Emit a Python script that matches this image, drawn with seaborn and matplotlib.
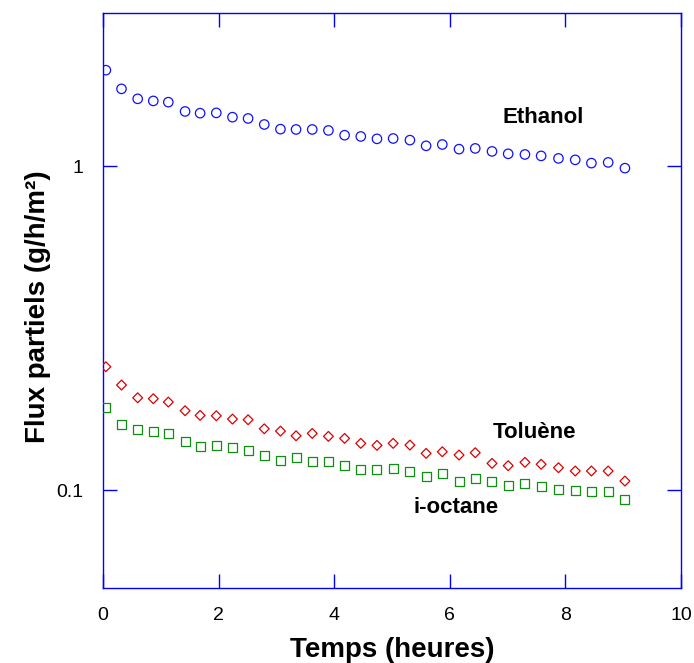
import numpy as np
import matplotlib
matplotlib.use('Agg')
import matplotlib.pyplot as plt
import matplotlib.ticker as mticker
import seaborn as sns

# temps de mesure (heures)
temps = [0.05, 0.32, 0.60, 0.87, 1.13, 1.42, 1.68, 1.96, 2.24, 2.51, 2.79,
         3.07, 3.34, 3.62, 3.90, 4.18, 4.46, 4.74, 5.02, 5.31, 5.59, 5.87,
         6.16, 6.44, 6.73, 7.01, 7.30, 7.58, 7.88, 8.17, 8.45, 8.74, 9.03]

# flux partiels (g/h/m2)
ethanol = [1.984, 1.737, 1.618, 1.594, 1.580, 1.479, 1.461, 1.464, 1.420,
           1.407, 1.348, 1.304, 1.301, 1.301, 1.292, 1.249, 1.238, 1.217,
           1.220, 1.206, 1.158, 1.169, 1.131, 1.137, 1.113, 1.094, 1.089,
           1.078, 1.059, 1.048, 1.024, 1.029, 0.988]
toluene = [0.2404, 0.2111, 0.1928, 0.1915, 0.1870, 0.1758, 0.1701, 0.1696,
           0.1657, 0.1649, 0.1546, 0.1521, 0.1471, 0.1496, 0.1465, 0.1444,
           0.1394, 0.1374, 0.1394, 0.1377, 0.1298, 0.1313, 0.1283, 0.1304,
           0.1209, 0.1189, 0.1218, 0.1201, 0.1172, 0.1145, 0.1145, 0.1145,
           0.1066]
ioctane = [0.1796, 0.1599, 0.1540, 0.1521, 0.1496, 0.1417, 0.1365, 0.1374,
           0.1358, 0.1329, 0.1280, 0.1238, 0.1258, 0.1223, 0.1223, 0.1189,
           0.1159, 0.1159, 0.1169, 0.1145, 0.1099, 0.1121, 0.1066, 0.1089,
           0.1059, 0.1034, 0.1049, 0.1027, 0.1007, 0.1000, 0.0991, 0.0991,
           0.0938]

sns.set_style('white')
plt.rcParams['font.family'] = ['Liberation Sans', 'DejaVu Sans']
plt.rcParams['text.color'] = 'black'
plt.rcParams['axes.labelcolor'] = 'black'

fig = plt.figure(figsize=(6.94, 6.63), dpi=100)
ax = fig.add_axes([103/694, 1 - 588/663, 578/694, 575/663])

sns.scatterplot(x=temps, y=ethanol, marker='o', s=46, fc='none',
                ec='#1010ff', linewidth=0.9, ax=ax, zorder=3)
sns.scatterplot(x=temps, y=toluene, marker='D', s=25, fc='none',
                ec='#dd0000', linewidth=0.9, ax=ax, zorder=3)
sns.scatterplot(x=temps, y=ioctane, marker='s', s=42, fc='none',
                ec='#109010', linewidth=0.9, ax=ax, zorder=3)

ax.set_yscale('log')
ax.set_xlim(0, 10)
ax.set_ylim(0.0498, 2.98)
ax.set_xticks([0, 2, 4, 6, 8, 10])
ax.yaxis.set_major_locator(mticker.FixedLocator([0.1, 1]))
ax.yaxis.set_major_formatter(mticker.FixedFormatter(['0.1', '1']))
ax.yaxis.set_minor_locator(mticker.NullLocator())

for s in ax.spines.values():
    s.set_color('#0000ff')
    s.set_linewidth(1.0)
    s.set_visible(True)
ax.tick_params(direction='in', length=10, width=1, color='#0000ff',
               bottom=True, left=True, top=True, right=True,
               labelsize=14, labelcolor='black', pad=14)

ax.set_xlabel('Temps (heures)', fontsize=20, fontweight='bold', labelpad=9)
ax.set_ylabel('Flux partiels (g/h/m²)', fontsize=20, fontweight='bold')
ax.yaxis.set_label_coords(-0.09, 0.49)

ax.text(7.61, 1.42, 'Ethanol', fontsize=16, fontweight='bold', ha='center', va='center')
ax.text(7.46, 0.151, 'Toluène', fontsize=16, fontweight='bold', ha='center', va='center')
ax.text(6.11, 0.088, 'i-octane', fontsize=16, fontweight='bold', ha='center', va='center')

fig.savefig('out.png', dpi=100)
